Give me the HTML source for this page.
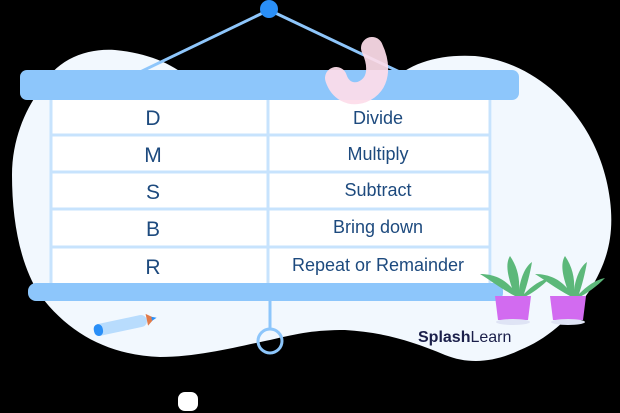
<!DOCTYPE html>
<html><head><meta charset="utf-8"><style>
html,body{margin:0;padding:0;background:#000;}
svg{display:block}
text{font-family:"Liberation Sans",sans-serif;fill:#1d4a7e}
</style></head><body>
<svg width="620" height="413" viewBox="0 0 620 413" xmlns="http://www.w3.org/2000/svg">
<rect width="620" height="413" fill="#000"/>
<path fill="#f2f8fe" d="M40,90 C55,60 85,48 115,50 C150,53 178,66 195,84 L388,84 C410,62 440,54 475,56 C540,62 600,120 610,200 C615,240 605,265 590,290 C570,320 545,340 520,350 C495,362 470,365 445,355 C410,340 380,332 345,330 C315,330 300,333 270,340 C240,346 200,357 160,357 C110,355 70,335 40,295 C20,265 12,220 12,175 C12,140 25,110 40,90 Z"/>
<line x1="269" y1="10" x2="115" y2="84" stroke="#8ec6fb" stroke-width="3"/>
<line x1="269" y1="10" x2="425" y2="84" stroke="#8ec6fb" stroke-width="3"/>
<circle cx="269" cy="9" r="9" fill="#2a8ff7"/>
<rect x="50" y="99" width="442" height="186" fill="#fff"/>
<g stroke="#c7e3fd" stroke-width="3">
<line x1="51" y1="98" x2="51" y2="285"/>
<line x1="490" y1="98" x2="490" y2="285"/>
<line x1="268" y1="98" x2="268" y2="285"/>
<line x1="50" y1="135" x2="490" y2="135"/>
<line x1="50" y1="172" x2="490" y2="172"/>
<line x1="50" y1="209" x2="490" y2="209"/>
<line x1="50" y1="247" x2="490" y2="247"/>
</g>
<rect x="20" y="70" width="499" height="30" rx="7" fill="#8dc6fb"/>
<path d="M372,48 C380,65 380,85 362,92 C350,96 340,90 336,78" fill="none" stroke="#fddde9" stroke-width="22" stroke-linecap="round" opacity="0.93"/>
<g font-size="18" text-anchor="middle">
<text x="153" y="125" font-size="21">D</text>
<text x="153" y="162" font-size="21">M</text>
<text x="153" y="199" font-size="21">S</text>
<text x="153" y="236" font-size="21">B</text>
<text x="153" y="274" font-size="21">R</text>
<text x="378" y="124">Divide</text>
<text x="378" y="160">Multiply</text>
<text x="378" y="196">Subtract</text>
<text x="378" y="233">Bring down</text>
<text x="378" y="271">Repeat or Remainder</text>
</g>
<rect x="28" y="283" width="475" height="18" rx="8" fill="#8dc6fb"/>
<line x1="270" y1="300" x2="270" y2="330" stroke="#8dc6fb" stroke-width="3"/>
<circle cx="270" cy="341" r="12" fill="none" stroke="#8dc6fb" stroke-width="3"/>
<g transform="translate(94,331) rotate(-12)">
<rect x="0" y="-6" width="54" height="12" rx="6" fill="#b8dcfd"/>
<rect x="0" y="-6" width="9" height="12" rx="5" fill="#2a8ff7"/>
<polygon points="54,-6 62,0 54,6" fill="#e07a4a"/>
<polygon points="59,-2 64,0 59,2" fill="#2a8ff7"/>
</g>
<g>
<path d="M515,296 C500,288 490,280 480,274 C495,274 505,280 512,288 C508,276 505,264 510,256 C517,266 520,278 519,290 C521,276 526,266 532,262 C530,274 527,285 524,294 C532,286 540,280 550,278 C542,286 532,294 522,298 Z" fill="#5cb87a"/>
<path d="M495,296 L531,296 L528,320 L498,320 Z" fill="#d26bf0"/>
<ellipse cx="513" cy="322" rx="17" ry="3" fill="#dfe4f5"/>
<path d="M570,296 C555,288 545,280 535,274 C550,274 560,280 567,288 C563,276 560,264 565,256 C572,266 575,278 574,290 C576,276 581,266 587,262 C585,274 582,285 579,294 C587,286 595,280 605,278 C597,286 587,294 577,298 Z" fill="#5cb87a"/>
<path d="M550,296 L586,296 L583,320 L553,320 Z" fill="#d26bf0"/>
<ellipse cx="568" cy="322" rx="17" ry="3" fill="#dfe4f5"/>
</g>
<text x="418" y="342" font-size="16" font-weight="bold" style="fill:#1b1f4a">Splash<tspan font-weight="normal">Learn</tspan></text>
<rect x="178" y="392" width="20" height="19" rx="7" fill="#fff"/>
</svg>
</body></html>
